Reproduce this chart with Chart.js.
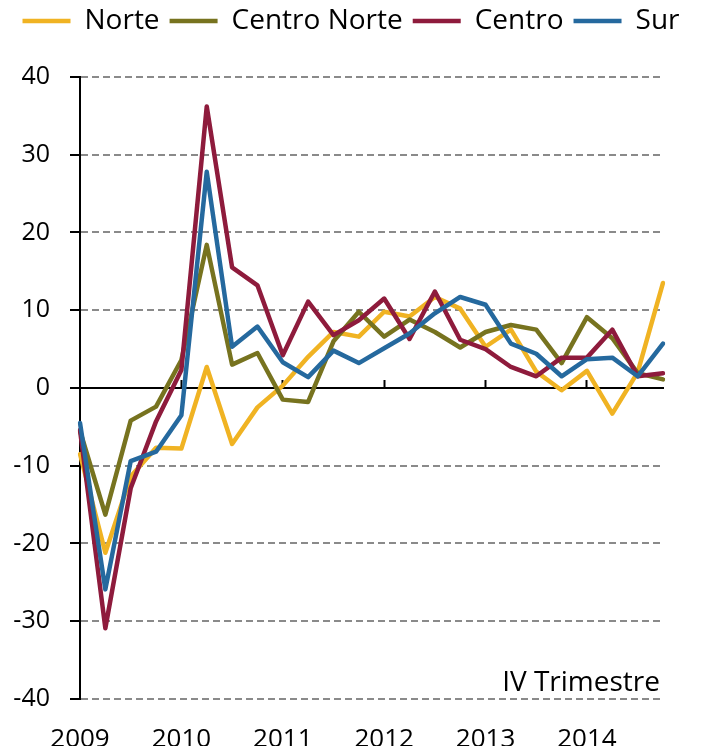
<!DOCTYPE html>
<html>
<head>
<meta charset="utf-8">
<script src="https://cdn.jsdelivr.net/npm/chart.js@4/dist/chart.umd.min.js"></script>
<style>
  html, body { margin: 0; padding: 0; background: #fff; overflow: hidden; }
  #wrap { width: 702px; height: 754px; }
</style>
</head>
<body>
<div id="wrap"><canvas id="chart"></canvas></div>
<script>
// quarters 2009-I .. 2014-IV
const quarters = [
  '2009-I', '2009-II', '2009-III', '2009-IV',
  '2010-I', '2010-II', '2010-III', '2010-IV',
  '2011-I', '2011-II', '2011-III', '2011-IV',
  '2012-I', '2012-II', '2012-III', '2012-IV',
  '2013-I', '2013-II', '2013-III', '2013-IV',
  '2014-I', '2014-II', '2014-III', '2014-IV'
];
const yearLabels = ['2009', '2010', '2011', '2012', '2013', '2014'];

const norte = [-8.5, -21.2, -11.4, -7.7, -7.8, 2.7, -7.2, -2.5, 0.3, 4.0, 7.2, 6.6,
  9.8, 9.2, 11.7, 10.2, 5.3, 7.5, 2.1, -0.3, 2.2, -3.3, 2.0, 13.5];
const centroNorte = [-5.5, -16.3, -4.2, -2.4, 3.6, 18.4, 3.0, 4.5, -1.5, -1.8, 6.0, 9.8,
  6.6, 8.8, 7.2, 5.2, 7.2, 8.1, 7.5, 3.2, 9.1, 6.4, 1.9, 1.1];
const centro = [-5.4, -30.9, -12.9, -4.3, 2.3, 36.2, 15.5, 13.2, 4.2, 11.1, 6.8, 8.7,
  11.5, 6.3, 12.4, 6.2, 5.0, 2.7, 1.5, 3.9, 3.9, 7.5, 1.5, 1.9];
const sur = [-4.5, -25.9, -9.4, -8.2, -3.5, 27.8, 5.3, 7.9, 3.3, 1.4, 4.8, 3.2,
  5.1, 7.0, 9.6, 11.7, 10.7, 5.7, 4.4, 1.5, 3.7, 3.9, 1.5, 5.7];

const yTicks = { min: -40, max: 40, step: 10 };
const noteText = 'IV Trimestre';

const COLORS = {
  norte: '#F0B323',
  centroNorte: '#77731F',
  centro: '#8E1B3C',
  sur: '#25699E',
  grid: '#8A8A8A',
  axis: '#000000'
};
const FONT = "'Open Sans', sans-serif";

Chart.defaults.font.family = FONT;
Chart.defaults.font.size = 25;
Chart.defaults.color = '#000';

function series(label, data, color, order) {
  return {
    label,
    data,
    borderColor: color,
    backgroundColor: color,
    borderWidth: 4.5,
    pointRadius: 0,
    tension: 0,
    fill: false,
    borderJoinStyle: 'round',
    borderCapStyle: 'round',
    order
  };
}

// "IV Trimestre" note in the lower right corner of the plot
const notePlugin = {
  id: 'note',
  afterDraw(chart) {
    const { ctx, chartArea } = chart;
    ctx.save();
    ctx.font = `28px ${FONT}`;
    ctx.fillStyle = '#000';
    ctx.textAlign = 'right';
    ctx.textBaseline = 'middle';
    ctx.fillText(noteText, chartArea.right - 3, chartArea.bottom - 16);
    ctx.restore();
  }
};

new Chart(document.getElementById('chart'), {
  type: 'line',
  data: {
    labels: quarters,
    datasets: [
      series('Norte', norte, COLORS.norte, 4),
      series('Centro Norte', centroNorte, COLORS.centroNorte, 3),
      series('Centro', centro, COLORS.centro, 2),
      series('Sur', sur, COLORS.sur, 1)
    ]
  },
  options: {
    responsive: true,
    maintainAspectRatio: false,
    animation: false,
    layout: { padding: { top: -3, right: 0, bottom: 8, left: 0 } },
    plugins: {
      tooltip: { enabled: false },
      legend: {
        position: 'top',
        weight: 3000,
        labels: {
          usePointStyle: true,
          pointStyle: 'line',
          pointStyleWidth: 48,
          padding: 10,
          color: '#000',
          font: { size: 28 },
          sort: (a, b) => a.datasetIndex - b.datasetIndex
        }
      },
      // empty title used as a gap between legend and plot
      title: {
        display: true,
        text: '',
        padding: 0,
        font: { size: 28, lineHeight: 1.14 }
      }
    },
    scales: {
      x: {
        type: 'category',
        position: 'bottom',
        offset: false,
        border: { display: false },
        grid: { display: false, drawTicks: false },
        ticks: {
          autoSkip: false,
          maxRotation: 0,
          padding: 25,
          font: { size: 26 },
          callback: (v, i) => (i % 4 === 0 ? yearLabels[i / 4] : '')
        },
        afterFit: s => { s.height = 47; }
      },
      x2: {
        type: 'category',
        position: { y: 0 },
        offset: false,
        border: { display: true, color: COLORS.axis, width: 2 },
        grid: {
          drawOnChartArea: false,
          drawTicks: true,
          tickLength: -9,
          tickWidth: 2,
          tickColor: c => (c.index % 4 === 0 && c.index > 0 ? COLORS.axis : 'rgba(0,0,0,0)')
        },
        ticks: { display: false, autoSkip: false },
        afterFit: s => { s.height = 0; }
      },
      y: {
        min: yTicks.min,
        max: yTicks.max,
        border: { display: true, color: COLORS.axis, width: 2, dash: [7, 4] },
        grid: {
          color: COLORS.grid,
          lineWidth: 2,
          tickColor: COLORS.axis,
          tickLength: 10,
          tickWidth: 2
        },
        ticks: {
          stepSize: yTicks.step,
          padding: 20,
          color: '#000'
        },
        afterFit: s => { s.width = 80; }
      },
      // empty right-hand axis, keeps the plot clear of the right edge
      yRight: {
        position: 'right',
        display: true,
        border: { display: false },
        grid: { display: false, drawTicks: false },
        ticks: { display: false },
        afterFit: s => { s.width = 39; }
      }
    }
  },
  plugins: [notePlugin]
});
</script>
</body>
</html>
